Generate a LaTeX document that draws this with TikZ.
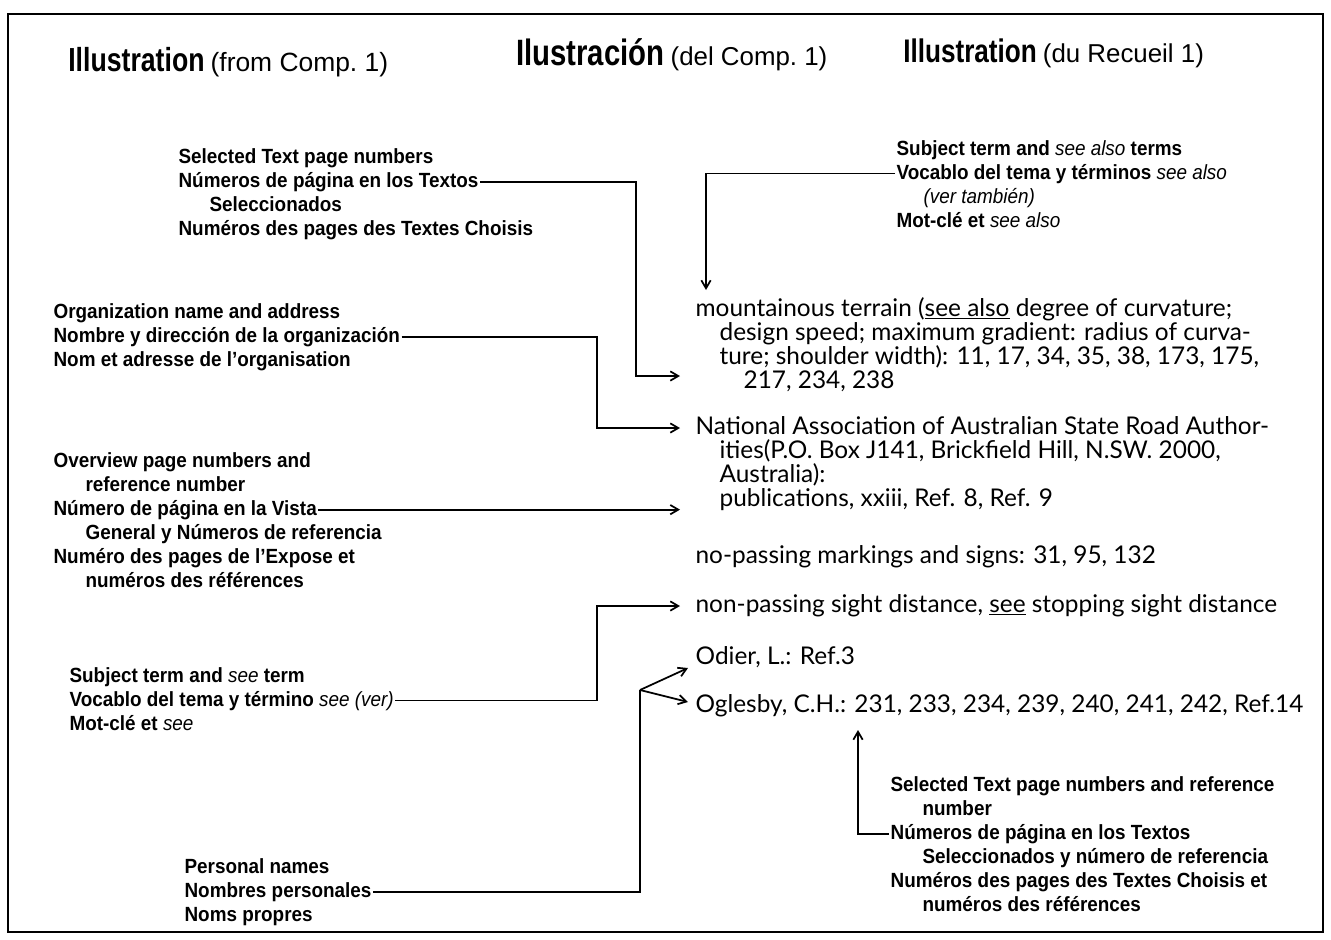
\documentclass[tikz,border=0pt]{standalone}
\usepackage{fontspec}
\usetikzlibrary{arrows.meta,calc}
\setmainfont{Lato}
\newfontfamily\labfont[FakeStretch=0.92]{Liberation Sans}
\newfontfamily\parfont{Liberation Sans}
\newfontfamily\headfontc[FakeStretch=0.8]{Liberation Sans}
\begin{document}
\begin{tikzpicture}[x=0.75pt,y=-0.75pt,
  lab/.style={anchor=base west, inner sep=1pt, font=\labfont\bfseries\fontsize{15.4}{17}\selectfont},
  ent/.style={anchor=base west, inner sep=1pt, font=\fontsize{18.3}{22}\selectfont},
  head/.style={anchor=base west, inner sep=0pt},
  conn/.style={line width=1.3pt},
  arr/.style={conn, -{Straight Barb[length=6pt,width=7pt]}},
  frame/.style={line width=1.6pt}]
\useasboundingbox (0,0) rectangle (1331,939);
\draw[frame] (8,14) rectangle (1323,932);

% headers
\node[head] (h1) at (68,71) {{\headfontc\bfseries\fontsize{25}{30}\selectfont Illustration}\hspace{2pt} {\parfont\fontsize{19.8}{22}\selectfont (from Comp.~1)}};
\node[head] (h2) at (516,65) {{\headfontc\bfseries\fontsize{27.5}{30}\selectfont Ilustración}\hspace{2pt} {\parfont\fontsize{19.4}{22}\selectfont (del Comp.~1)}};
\node[head] (h3) at (903,62) {{\headfontc\bfseries\fontsize{24.5}{30}\selectfont Illustration}\hspace{2pt} {\parfont\fontsize{19.4}{22}\selectfont (du Recueil 1)}};

% label A
\node[lab] (a1) at (177,163) {Selected Text page numbers};
\node[lab] (a2) at (177,187) {Números de página en los Textos};
\node[lab] (a3) at (208,211) {Seleccionados};
\node[lab] (a4) at (177,235) {Numéros des pages des Textes Choisis};

% label B
\node[lab] (b1) at (895,155) {Subject term and {\mdseries\itshape see also} terms};
\node[lab] (b2) at (895,179) {Vocablo del tema y términos {\mdseries\itshape see also}};
\node[lab] (b3) at (922,203) {\mdseries\itshape (ver también)};
\node[lab] (b4) at (895,227) {Mot-clé et {\mdseries\itshape see also}};

% entry 1
\node[ent] (e1a) at (694,316) {mountainous terrain (\underline{see also} degree of curvature;};
\node[ent] (e1b) at (718,340) {design speed; maximum gradient: radius of curva-};
\node[ent] (e1c) at (718,364) {ture; shoulder width): 11, 17, 34, 35, 38, 173, 175,};
\node[ent] (e1d) at (742,388) {217, 234, 238};

% label C
\node[lab] (c1) at (52,318) {Organization name and address};
\node[lab] (c2) at (52,342) {Nombre y dirección de la organización};
\node[lab] (c3) at (52,366) {Nom et adresse de l’organisation};

% entry 2
\node[ent] (e2a) at (694,434) {National Association of Australian State Road Author-};
\node[ent] (e2b) at (718,458) {ities(P.O. Box J141, Brickfield Hill, N.SW. 2000,};
\node[ent] (e2c) at (718,482) {Australia):};
\node[ent] (e2d) at (718,506) {publications, xxiii, Ref. 8, Ref. 9};

% label D
\node[lab] (d1) at (52,467) {Overview page numbers and};
\node[lab] (d2) at (84,491) {reference number};
\node[lab] (d3) at (52,515) {Número de página en la Vista};
\node[lab] (d4) at (84,539) {General y Números de referencia};
\node[lab] (d5) at (52,563) {Numéro des pages de l’Expose et};
\node[lab] (d6) at (84,587) {numéros des références};

% entries 3-6
\node[ent] (e3) at (694,563) {no-passing markings and signs: 31, 95, 132};
\node[ent] (e4) at (694,612) {non-passing sight distance, \underline{see} stopping sight distance};
\node[ent] (e5) at (694,664) {Odier, L.: Ref.3};
\node[ent] (e6) at (694,712) {Oglesby, C.H.: 231, 233, 234, 239, 240, 241, 242, Ref.14};

% label E
\node[lab] (f1) at (68,682) {Subject term and {\mdseries\itshape see} term};
\node[lab] (f2) at (68,706) {Vocablo del tema y término {\mdseries\itshape see (ver)}};
\node[lab] (f3) at (68,730) {Mot-clé et {\mdseries\itshape see}};

% label F
\node[lab] (g1) at (183,873) {Personal names};
\node[lab] (g2) at (183,897) {Nombres personales};
\node[lab] (g3) at (183,921) {Noms propres};

% label G
\node[lab] (k1) at (889,791) {Selected Text page numbers and reference};
\node[lab] (k2) at (921,815) {number};
\node[lab] (k3) at (889,839) {Números de página en los Textos};
\node[lab] (k4) at (921,863) {Seleccionados y número de referencia};
\node[lab] (k5) at (889,887) {Numéros des pages des Textes Choisis et};
\node[lab] (k6) at (921,911) {numéros des références};

% arrow targets
\coordinate (t1) at (680,376);
\coordinate (t2) at (706,290);
\coordinate (t3) at (680,428);
\coordinate (t4) at (680,510);
\coordinate (t5) at (680,606);
\coordinate (j)  at (640,690);
\coordinate (t6a) at (688,668);
\coordinate (t6b) at (688,702);
\coordinate (t7) at (858,730);

% connectors
\draw[arr] (a2.east) -| ($(t1)+(-44,0)$) -- (t1);
\draw[arr] (b2.west) -| (t2);
\draw[arr] (c2.east) -| ($(t3)+(-83,0)$) -- (t3);
\draw[arr] (d3.east) -- (d3.east -| t4);
\draw[arr] (f2.east) -| ($(t5)+(-83,0)$) -- (t5);
\draw[conn] (g2.east) -| (j);
\draw[arr] (j) -- (t6a);
\draw[arr] (j) -- (t6b);
\draw[arr] (k3.west) -| (t7);
\end{tikzpicture}
\end{document}
